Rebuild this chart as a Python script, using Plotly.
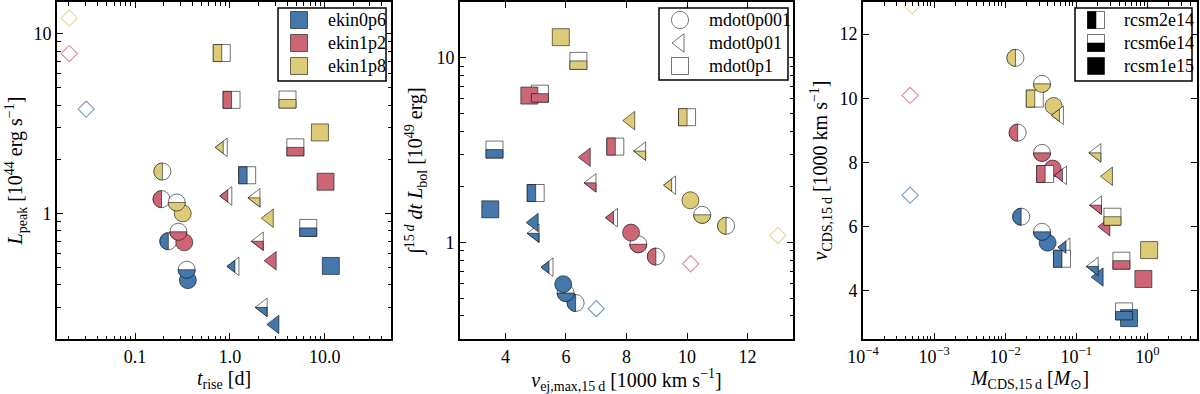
import numpy as np
import plotly.graph_objects as go

W, H = 1200, 394
FONT = "Liberation Serif"

# ---------------- data ----------------
ekin_names = ["ekin0p6", "ekin1p2", "ekin1p8"]
mdot_names = ["mdot0p001", "mdot0p01", "mdot0p1"]
rcsm_names = ["rcsm2e14", "rcsm6e14", "rcsm1e15"]

# model order: for each ekin, for each mdot, for each rcsm
model_ekin = [e for e in ekin_names for m in mdot_names for r in rcsm_names]
model_mdot = [m for e in ekin_names for m in mdot_names for r in rcsm_names]
model_rcsm = [r for e in ekin_names for m in mdot_names for r in rcsm_names]

t_rise = [0.224, 0.35, 0.36, 1.13, 2.24, 2.98, 1.52, 6.7, 11.6,
          0.19, 0.286, 0.33, 0.95, 2.04, 2.79, 1.04, 4.9, 10.2,
          0.194, 0.275, 0.318, 0.85, 1.88, 2.6, 0.82, 4.05, 8.9]
L_peak = [0.70, 0.486, 0.425, 0.507, 0.30, 0.241, 1.63, 0.83, 0.51,
          1.2, 0.79, 0.69, 1.25, 0.70, 0.545, 4.28, 2.33, 1.5,
          1.71, 1.15, 1.0, 2.33, 1.22, 0.94, 7.8, 4.3, 2.82]
v_ej = [6.32, 5.99, 5.91, 5.44, 4.98, 4.95, 5.0, 3.64, 3.5,
        8.97, 8.39, 8.15, 7.57, 6.86, 6.67, 7.63, 5.14, 4.79,
        11.29, 10.5, 10.11, 9.49, 8.5, 8.14, 10.0, 6.41, 5.83]
E_rad = [0.47, 0.532, 0.594, 0.734, 1.12, 1.28, 1.85, 3.18, 1.51,
         0.838, 0.977, 1.13, 1.36, 2.1, 2.89, 3.3, 6.38, 6.23,
         1.23, 1.41, 1.69, 2.04, 3.12, 4.56, 4.76, 9.6, 12.9]
M_cds = [0.0168, 0.033, 0.0396, 0.0717, 0.179, 0.21, 0.063, 0.471, 0.553,
         0.015, 0.033, 0.0466, 0.064, 0.199, 0.261, 0.0365, 0.432, 0.88,
         0.01395, 0.033, 0.048, 0.058, 0.195, 0.284, 0.0261, 0.323, 1.06]
v_cds = [6.31, 5.84, 5.50, 5.36, 4.76, 4.43, 5.0, 3.36, 3.15,
         8.93, 8.30, 7.81, 7.6, 6.67, 6.0, 7.64, 4.94, 4.37,
         11.26, 10.45, 9.76, 9.47, 8.30, 7.57, 9.99, 6.31, 5.27]

# reference (open diamond) models, one per ekin
ref_ekin = ["ekin0p6", "ekin1p2", "ekin1p8"]
ref_t_rise = [0.0305, 0.0202, 0.0202]
ref_L_peak = [3.8, 7.75, 12.2]
ref_v_ej = [7.0, 10.12, 13.0]
ref_E_rad = [0.438, 0.766, 1.09]
ref_M_cds = [4.6e-4, 4.6e-4, 4.9e-4]
ref_v_cds = [6.98, 10.09, 12.88]

# ---------------- style ----------------
COL = {"ekin0p6": "#4477AA", "ekin1p2": "#CC6677", "ekin1p8": "#DDCC77"}
EDGE = "rgba(0,0,0,0.55)"
SYM = {"mdot0p001": "circle", "mdot0p01": "triangle-left", "mdot0p1": "square"}
MSIZE = {"circle": 17, "triangle-left": 16, "square": 17}
FILL = {"rcsm2e14": "left", "rcsm6e14": "bottom", "rcsm1e15": "full"}


def half_path(sym, fill, size):
    """pixel path (relative to anchor, y up) of the coloured half of a marker"""
    r = size / 2.0
    pts = []
    if sym == "circle":
        if fill == "left":
            th = np.linspace(np.pi / 2, 3 * np.pi / 2, 25)
        else:
            th = np.linspace(np.pi, 2 * np.pi, 25)
        pts = [(r * np.cos(t), r * np.sin(t)) for t in th]
    elif sym == "square":
        if fill == "left":
            pts = [(-r, -r), (0, -r), (0, r), (-r, r)]
        else:
            pts = [(-r, -r), (r, -r), (r, 0), (-r, 0)]
    elif sym == "triangle-left":
        rt = r * 2 / np.sqrt(3)
        if fill == "left":
            pts = [(-r, 0), (0, -2 * rt / 3), (0, 2 * rt / 3)]
        else:
            pts = [(-r, 0), (r / 2, 0), (r / 2, -rt)]
    return "M " + " L ".join(f"{x:.2f},{y:.2f}" for x, y in pts) + " Z"


def full_path(sym, size):
    r = size / 2.0
    if sym == "circle":
        th = np.linspace(0, 2 * np.pi, 40)
        pts = [(r * np.cos(t), r * np.sin(t)) for t in th]
    elif sym == "square":
        pts = [(-r, -r), (r, -r), (r, r), (-r, r)]
    else:
        rt = r * 2 / np.sqrt(3)
        pts = [(-r, 0), (r / 2, -rt), (r / 2, rt)]
    return "M " + " L ".join(f"{x:.2f},{y:.2f}" for x, y in pts) + " Z"


fig = go.Figure()
shapes = []
annotations = []

panels = [
    ("x", "y", t_rise, L_peak, ref_t_rise, ref_L_peak),
    ("x2", "y2", v_ej, E_rad, ref_v_ej, ref_E_rad),
    ("x3", "y3", M_cds, v_cds, ref_M_cds, ref_v_cds),
]

for xa, ya, xs, ys, rxs, rys in panels:
    # reference diamonds
    for i, e in enumerate(ref_ekin):
        fig.add_trace(go.Scatter(
            x=[rxs[i]], y=[rys[i]], xaxis=xa, yaxis=ya, mode="markers",
            marker=dict(symbol="diamond-open", size=12.5, color=COL[e],
                        opacity=0.75, line=dict(width=1.1, color=COL[e])),
            showlegend=False, hoverinfo="skip"))
    for i in range(len(xs)):
        e, m, rc = model_ekin[i], model_mdot[i], model_rcsm[i]
        sym = SYM[m]
        fill = FILL[rc]
        fig.add_trace(go.Scatter(
            x=[xs[i]], y=[ys[i]], xaxis=xa, yaxis=ya, mode="markers",
            marker=dict(symbol=sym, size=MSIZE[sym],
                        color=COL[e] if fill == "full" else "white",
                        line=dict(width=1, color=EDGE)),
            name=f"{e} {m} {rc}", showlegend=False))
        if fill != "full":
            shapes.append(dict(
                type="path", xref=xa, yref=ya, xsizemode="pixel", ysizemode="pixel",
                xanchor=xs[i], yanchor=ys[i], path=half_path(sym, fill, MSIZE[sym]),
                fillcolor=COL[e], line=dict(color=EDGE, width=1), layer="above"))

# ---------------- layout / axes ----------------
ytop, ybot = 1 - 2 / H, 1 - 339 / H
doms = [(57 / W, 391 / W), (460 / W, 793 / W), (863 / W, 1197 / W)]

base = dict(showline=True, linecolor="black", linewidth=2, mirror="allticks",
            ticks="inside", ticklen=6, tickwidth=1.3, tickcolor="black",
            showgrid=False, zeroline=False, automargin=False,
            tickfont=dict(family=FONT, size=18, color="black"),
            title_font=dict(family=FONT, size=20, color="black"))


def log_minor(lo, hi):
    vals = []
    for d in range(lo, hi + 1):
        for k in range(2, 10):
            vals.append(k * 10.0 ** d)
    return dict(ticks="inside", ticklen=3.5, tickwidth=1, tickcolor="black",
                tickmode="array", tickvals=vals, showgrid=False)


fig.update_layout(
    width=W, height=H, margin=dict(l=0, r=0, t=0, b=0),
    paper_bgcolor="white", plot_bgcolor="white", showlegend=False,
    xaxis=dict(base, domain=doms[0], anchor="y", type="log",
               range=[np.log10(0.015), np.log10(50)],
               tickmode="array", tickvals=[0.1, 1, 10], ticktext=["0.1", "1.0", "10.0"],
               minor=log_minor(-2, 1),
               title=dict(text="<i>t</i><sub>rise</sub> [d]", standoff=1)),
    yaxis=dict(base, domain=[ybot, ytop], anchor="x", type="log",
               range=[np.log10(0.2), np.log10(15)],
               tickmode="array", tickvals=[1, 10], ticktext=["1", "10"],
               minor=log_minor(-1, 1),
               title=dict(text="<i>L</i><sub>peak</sub> [10<sup>44</sup> erg s<sup>\u22121</sup>]", standoff=5)),
    xaxis2=dict(base, domain=doms[1], anchor="y2", type="linear",
                range=[2.5, 13.5], tickmode="array", tickvals=[4, 6, 8, 10, 12],
                title=dict(text="<i>v</i><sub>ej,max,15\u2009d</sub> [1000 km s<sup>\u22121</sup>]", standoff=1)),
    yaxis2=dict(base, domain=[ybot, ytop], anchor="x2", type="log",
                range=[np.log10(0.3), np.log10(20)],
                tickmode="array", tickvals=[1, 10], ticktext=["1", "10"],
                minor=log_minor(-1, 1),
                title=dict(text="\u222b<sup>15\u2009<i>d</i></sup> <i>dt L</i><sub>bol</sub> [10<sup>49</sup> erg]", standoff=8)),
    xaxis3=dict(base, domain=doms[2], anchor="y3", type="log",
                range=[-4, np.log10(5)], tickmode="array",
                tickvals=[1e-4, 1e-3, 1e-2, 1e-1, 1],
                ticktext=["10<sup>\u22124</sup>", "10<sup>\u22123</sup>", "10<sup>\u22122</sup>",
                          "10<sup>\u22121</sup>", "10<sup>0</sup>"],
                minor=log_minor(-4, 0),
                title=dict(text="<i>M</i><sub>CDS,15\u2009d</sub> [<i>M</i><sub>\u2299</sub>]", standoff=1)),
    yaxis3=dict(base, domain=[ybot, ytop], anchor="x3", type="linear",
                range=[2.5, 13], tickmode="array", tickvals=[4, 6, 8, 10, 12],
                title=dict(text="<i>v</i><sub>CDS,15\u2009d</sub> [1000 km s<sup>\u22121</sup>]", standoff=6)),
)

# ---------------- custom legends ----------------
def px2paper(px, py):
    return px / W, 1 - py / H


def legend_box(x0, y0, x1, y1):
    a = px2paper(x0, y0)
    b = px2paper(x1, y1)
    shapes.append(dict(type="rect", xref="paper", yref="paper", x0=a[0], y0=b[1],
                       x1=b[0], y1=a[1], line=dict(color="black", width=1.5),
                       fillcolor="white", layer="above"))


def legend_marker(px, py, sym, size, fillcol, halfcol=None, fill=None, edge=EDGE):
    ax, ay = px2paper(px, py)
    shapes.append(dict(type="path", xref="paper", yref="paper", xsizemode="pixel",
                       ysizemode="pixel", xanchor=ax, yanchor=ay, path=full_path(sym, size),
                       fillcolor=fillcol, line=dict(color=edge, width=1), layer="above"))
    if halfcol is not None:
        shapes.append(dict(type="path", xref="paper", yref="paper", xsizemode="pixel",
                           ysizemode="pixel", xanchor=ax, yanchor=ay,
                           path=half_path(sym, fill, size),
                           fillcolor=halfcol, line=dict(color=edge, width=1), layer="above"))


def legend_text(px, py, text):
    ax, ay = px2paper(px, py)
    annotations.append(dict(x=ax, y=ay, xref="paper", yref="paper", text=text,
                            showarrow=False, xanchor="left", yanchor="middle",
                            font=dict(family=FONT, size=18, color="black")))


rows = [20, 43, 66]
legend_box(278, 8, 386, 81)
for yy, e in zip(rows, ekin_names):
    legend_marker(299, yy, "square", 17, COL[e])
    legend_text(326, yy, e)

legend_box(659, 8, 788, 80)
for yy, m in zip(rows, mdot_names):
    legend_marker(680, yy, SYM[m], MSIZE[SYM[m]], "white")
    legend_text(707, yy, m)

legend_box(1075, 8, 1192, 81)
for yy, rc in zip(rows, rcsm_names):
    if FILL[rc] == "full":
        legend_marker(1096, yy, "square", 17, "black")
    else:
        legend_marker(1096, yy, "square", 17, "white", "black", FILL[rc])
    legend_text(1122, yy, rc)

fig.update_layout(shapes=shapes, annotations=annotations)
fig.write_html("out.html", config={"displayModeBar": False},
               post_script="document.body.style.margin='0px';document.body.style.padding='0px';")
